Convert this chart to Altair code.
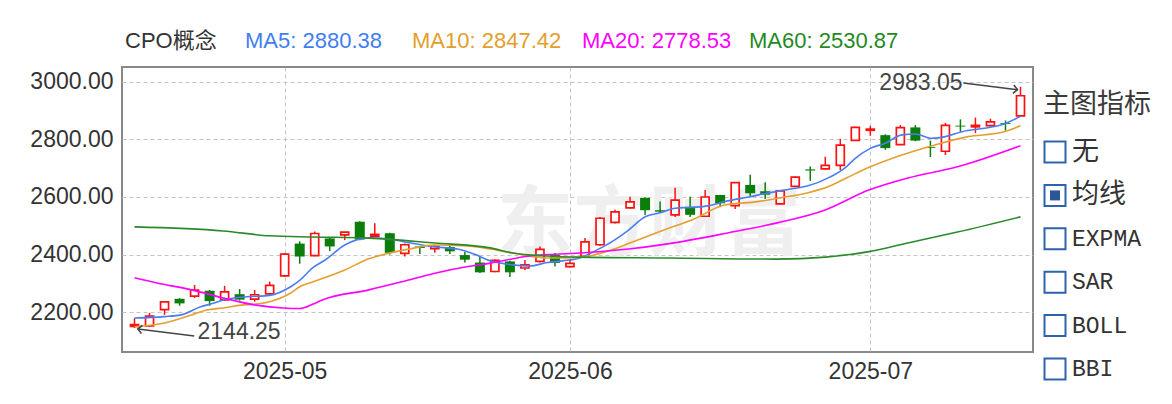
import altair as alt
import pandas as pd

# ---------------- data ----------------
opens = [2150, 2152, 2208, 2246, 2255, 2274, 2242, 2262, 2245, 2263,
         2326, 2438, 2396, 2456, 2468, 2514, 2464, 2474, 2404, 2428,
         2420, 2426, 2398, 2372, 2341, 2376, 2353, 2376, 2398, 2358,
         2394, 2434, 2512, 2562, 2597, 2554, 2538, 2566, 2533, 2607,
         2570, 2642, 2620, 2576, 2637, 2696, 2698, 2710, 2797, 2832,
         2815, 2782, 2842, 2774, 2759, 2848, 2844, 2848, 2857, 2882]
highs = [2179, 2197, 2238, 2248, 2294, 2277, 2291, 2280, 2277, 2306,
         2405, 2446, 2480, 2460, 2479, 2516, 2509, 2476, 2438, 2430,
         2432, 2434, 2410, 2391, 2383, 2378, 2381, 2428, 2405, 2381,
         2457, 2530, 2556, 2601, 2599, 2584, 2632, 2601, 2624, 2608,
         2652, 2677, 2651, 2624, 2671, 2706, 2740, 2802, 2844, 2847,
         2818, 2850, 2850, 2796, 2858, 2870, 2876, 2872, 2866, 2983.05]
lows = [2144.25, 2148, 2190, 2222, 2249, 2222, 2238, 2240, 2236, 2258,
        2322, 2368, 2394, 2412, 2450, 2450, 2460, 2400, 2393, 2402,
        2406, 2402, 2372, 2336, 2338, 2322, 2346, 2372, 2358, 2355,
        2392, 2430, 2508, 2560, 2537, 2546, 2530, 2530, 2530, 2566,
        2558, 2603, 2593, 2574, 2635, 2656, 2696, 2694, 2795, 2813,
        2764, 2780, 2794, 2739, 2746, 2827, 2822, 2845, 2831, 2880]
closes = [2156, 2186, 2235, 2230, 2276, 2238, 2270, 2243, 2260, 2293,
          2401, 2393, 2473, 2428, 2478, 2452, 2470, 2406, 2434, 2423,
          2428, 2411, 2382, 2338, 2380, 2338, 2364, 2418, 2371, 2369,
          2444, 2526, 2548, 2583, 2554, 2549, 2589, 2538, 2600, 2578,
          2650, 2613, 2608, 2621, 2669, 2692, 2710, 2780, 2842, 2836,
          2770, 2841, 2796, 2771, 2849, 2845, 2849, 2861, 2854, 2952]

ma5_idx = [0, 2.0, 3.1, 4.4, 5.3, 5.9, 7.5, 9.0, 10.4, 11.0, 11.9, 12.7, 14.0,
           15.6, 16.9, 18.4, 19.9, 21.5, 22.6, 23.7, 25.2, 26.3, 27.5, 28.5,
           29.6, 30.8, 31.8, 32.9, 34.0, 35.0, 36.0, 37.1, 38.2, 39.3, 41.0,
           42.1, 43.6, 44.8, 46.3, 47.4, 47.9, 49.0, 50.0, 51.1, 52.0, 53.1,
           54.0, 55.1, 56.6, 57.7, 59]
ma5_val = [2179, 2184, 2190, 2218, 2231, 2242, 2253, 2258, 2288, 2310, 2355, 2381, 2433,
           2458, 2454, 2440, 2427, 2419, 2402, 2378, 2364, 2360, 2372, 2378,
           2387, 2416, 2445, 2485, 2531, 2545, 2561, 2564, 2569, 2584, 2601,
           2613, 2627, 2638, 2669, 2705, 2730, 2769, 2787, 2816, 2819, 2804,
           2810, 2827, 2839, 2850, 2880.38]

ma10_idx = [0, 2.0, 3.8, 4.8, 5.9, 7.1, 8.1, 9.0, 10.4, 11.0, 11.9, 14.0, 15.6,
            16.9, 18.4, 19.9, 22.2, 23.7, 25.2, 27.5, 29.6, 31.4, 32.9, 35.6,
            37.1, 39.3, 41.5, 43.0, 44.8, 46.3, 47.4, 49.0, 51.1, 53.3, 55.5,
            57.7, 59]
ma10_val = [2149, 2162, 2190, 2207, 2214, 2224, 2228, 2236, 2266, 2288, 2305, 2346, 2385,
            2404, 2420, 2433, 2430, 2419, 2405, 2388, 2390, 2410, 2438, 2492,
            2520, 2572, 2584, 2597, 2614, 2638, 2666, 2705, 2746, 2781, 2810,
            2824, 2847.42]

ma20_idx = [0, 1.5, 3.8, 5.9, 8.1, 9.9, 11.0, 11.9, 12.5, 15.6, 17.8, 20.0, 22.2,
            23.7, 26.3, 29.6, 32.9, 35.5, 39.5, 42.8, 46.0, 48.9, 51.5, 54.8, 59]
ma20_val = [2319, 2301, 2277, 2249, 2224, 2214, 2212, 2228, 2242, 2277, 2305, 2335, 2358,
            2370, 2395, 2405, 2419, 2437, 2475, 2510, 2555, 2624, 2666, 2705, 2778.53]

ma60_idx = [0, 5.9, 9.0, 11.9, 15.6, 20.0, 23.7, 25.2, 27.5, 29.6, 35.5, 42.8,
            46.0, 48.9, 51.5, 54.8, 59]
ma60_val = [2496, 2482, 2465, 2461, 2457, 2440, 2423, 2405, 2395, 2391, 2388, 2384,
            2391, 2410, 2440, 2478, 2530.87]

month_idx = [10, 29, 49]
month_labels = ["2025-05", "2025-06", "2025-07"]
y_ticks = [2200, 2400, 2600, 2800, 3000]

series_names = ["MA5", "MA10", "MA20", "MA60"]
series_colors = ["#4a7df2", "#e3a030", "#ff00ff", "#2a8a2a"]

header_labels = ["CPO概念", "MA5: 2880.38", "MA10: 2847.42", "MA20: 2778.53", "MA60: 2530.87"]
header_colors = ["#333333", "#3f7ef2", "#e39e2c", "#ff00ff", "#1f8a1f"]

legend_title = "主图指标"
legend_items = ["无", "均线", "EXPMA", "SAR", "BOLL", "BBI"]
legend_checked = [False, True, False, False, False, False]

watermark = "东方财富"

# ---------------- styles ----------------
RED = "#ff1010"
GREEN = "#0b7d0b"
W, H = 911, 285
LATIN = "Liberation Sans, Noto Sans CJK SC"
CJK = "Noto Sans CJK SC"

N = len(opens)
candles = pd.DataFrame({"i": list(range(N)), "o": opens, "h": highs, "l": lows, "c": closes})

ma_frames = []
for name, idx, vals in [("MA5", ma5_idx, ma5_val), ("MA10", ma10_idx, ma10_val),
                        ("MA20", ma20_idx, ma20_val), ("MA60", ma60_idx, ma60_val)]:
    ma_frames.append(pd.DataFrame({"i": idx, "v": vals, "s": name}))
ma_df = pd.concat(ma_frames, ignore_index=True)

xscale = alt.Scale(domain=[-0.5, N - 0.5], nice=False, zero=False)
yscale = alt.Scale(domain=[2061, 3052], nice=False, zero=False)

label_expr = "".join(f"datum.value == {k} ? '{t}' : " for k, t in zip(month_idx, month_labels)) + "''"

xaxis = alt.Axis(values=month_idx, labelExpr=label_expr, grid=True, gridDash=[4, 3],
                 gridColor="#c4c4c4", gridWidth=1, ticks=False, tickSize=0, domain=False,
                 labelFont=LATIN, labelFontSize=23, labelColor="#333333", labelPadding=8,
                 labelFlush=False, title=None)
yaxis = alt.Axis(values=y_ticks, format=".2f", grid=True, gridDash=[4, 3],
                 gridColor="#c4c4c4", gridWidth=1, ticks=False, tickSize=0, domain=False,
                 labelFont=LATIN, labelFontSize=23, labelColor="#333333", labelPadding=9,
                 labelFlush=False, title=None)

base = alt.Chart(candles)

wm = alt.Chart(pd.DataFrame({"t": [watermark]})).mark_text(
    font=CJK, fontSize=76, fontWeight="bold", color="#efefef", align="center", baseline="middle"
).encode(text="t:N", x=alt.value(527), y=alt.value(159))

wick = base.mark_rule(strokeWidth=1.5).encode(
    x=alt.X("i:Q", scale=xscale, axis=xaxis),
    y=alt.Y("l:Q", scale=yscale, axis=yaxis),
    y2="h:Q",
    color=alt.condition("datum.c >= datum.o", alt.value(RED), alt.value(GREEN)),
)
up_body = base.transform_filter("datum.c >= datum.o").mark_bar(
    size=8, fill="white", stroke=RED, strokeWidth=1.7
).encode(x="i:Q", y="o:Q", y2="c:Q")
down_body = base.transform_filter("datum.c < datum.o").mark_bar(
    size=10, color=GREEN
).encode(x="i:Q", y="o:Q", y2="c:Q")

lines = alt.Chart(ma_df).mark_line(strokeWidth=1.6, interpolate="monotone").encode(
    x="i:Q", y="v:Q",
    color=alt.Color("s:N", scale=alt.Scale(domain=series_names, range=series_colors), legend=None),
    detail="s:N",
)

# annotations for highest high and lowest low
imax = max(range(N), key=lambda k: highs[k])
imin = min(range(N), key=lambda k: lows[k])
ann_max = pd.DataFrame({"i": [imax], "v": [highs[imax]], "t": [f"{highs[imax]:.2f}"]})
ann_min = pd.DataFrame({"i": [imin], "v": [lows[imin]], "t": [f"{lows[imin]:.2f}"]})
ANN = "#444444"

max_text = alt.Chart(ann_max).mark_text(
    font=LATIN, fontSize=23, color=ANN, align="right", baseline="middle", dx=-58, dy=-4
).encode(x="i:Q", y="v:Q", text="t:N")
max_arrow = alt.Chart(ann_max).transform_calculate(
    xs="datum.i - 3.8", ys="datum.v + 13", xe="datum.i - 0.2", ye="datum.v - 10"
).mark_rule(color=ANN, strokeWidth=1.5).encode(x="xs:Q", y="ys:Q", x2="xe:Q", y2="ye:Q")
max_head = alt.Chart(ann_max).transform_calculate(
    xe="datum.i - 0.2", ye="datum.v - 10"
).mark_point(shape="M-1,-1L0,0L-1,1", filled=False, color=ANN, strokeWidth=1.6, size=70, angle=7,
             opacity=1).encode(x="xe:Q", y="ye:Q")

min_text = alt.Chart(ann_min).mark_text(
    font=LATIN, fontSize=23, color=ANN, align="left", baseline="middle", dx=63, dy=4
).encode(x="i:Q", y="v:Q", text="t:N")
min_arrow = alt.Chart(ann_min).transform_calculate(
    xs="datum.i + 3.98", ys="datum.v - 28", xe="datum.i + 0.22", ye="datum.v - 3"
).mark_rule(color=ANN, strokeWidth=1.5).encode(x="xs:Q", y="ys:Q", x2="xe:Q", y2="ye:Q")
min_head = alt.Chart(ann_min).transform_calculate(
    xe="datum.i + 0.22", ye="datum.v - 3"
).mark_point(shape="M1,-1L0,0L1,1", filled=False, color=ANN, strokeWidth=1.6, size=70, angle=7,
             opacity=1).encode(x="xe:Q", y="ye:Q")

# header
header_x = [3, 123, 290, 460, 627]
header_layers = []
for lab, col, hx in zip(header_labels, header_colors, header_x):
    header_layers.append(
        alt.Chart(pd.DataFrame({"t": [lab]})).mark_text(
            font=LATIN, fontSize=22, color=col, align="left", baseline="middle"
        ).encode(text="t:N", x=alt.value(hx), y=alt.value(-26))
    )

# right-hand indicator legend
leg = pd.DataFrame({
    "k": list(range(len(legend_items))),
    "t": legend_items,
    "chk": legend_checked,
    "cjk": [any(ord(ch) > 127 for ch in s) for s in legend_items],
})
legc = alt.Chart(leg).transform_calculate(py="85 + 43.4 * datum.k")
leg_title = alt.Chart(pd.DataFrame({"t": [legend_title]})).mark_text(
    font=CJK, fontSize=27, color="#3a3a3a", align="left", baseline="middle"
).encode(text="t:N", x=alt.value(921), y=alt.value(38))
leg_box = legc.mark_square(filled=False, color="#2e62ad", strokeWidth=2, size=441, opacity=1).encode(
    x=alt.value(933), y=alt.Y("py:Q", scale=None))
leg_chk = legc.transform_filter("datum.chk").mark_square(filled=True, color="#2b5797", size=100, opacity=1).encode(
    x=alt.value(933), y=alt.Y("py:Q", scale=None))
leg_cjk = legc.transform_filter("datum.cjk").mark_text(
    font=CJK, fontSize=27, color="#333333", align="left", baseline="middle"
).encode(text="t:N", x=alt.value(950), y=alt.Y("py:Q", scale=None))
leg_lat = legc.transform_filter("!datum.cjk").mark_text(
    font="Liberation Mono", fontSize=23, color="#333333", align="left", baseline="middle"
).encode(text="t:N", x=alt.value(950), y=alt.Y("py:Q", scale=None))

chart = alt.layer(
    wm, wick, up_body, down_body, lines,
    max_arrow, max_head, max_text, min_arrow, min_head, min_text,
    *header_layers, leg_title, leg_box, leg_chk, leg_cjk, leg_lat,
).properties(
    width=W, height=H,
    autosize=alt.AutoSizeParams(type="none"),
    padding={"left": 114, "top": 59, "right": 131, "bottom": 36},
    background="white",
).configure_view(stroke="#888888", strokeWidth=2)

chart.save("out.html", embed_options={"renderer": "svg", "actions": False})
